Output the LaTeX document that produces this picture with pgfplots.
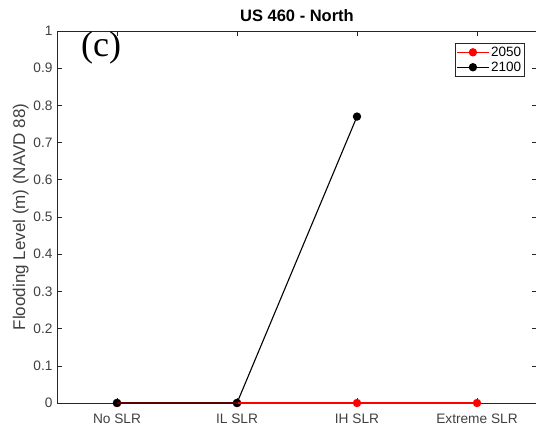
\documentclass[border=0pt]{standalone}
\usepackage{pgfplots}
\pgfplotsset{compat=1.18}
\usepackage{fontspec}
\setmainfont{Liberation Sans}
\newfontfamily\timesfont{Liberation Serif}
\definecolor{axgray}{HTML}{262626}
\definecolor{lblgray}{HTML}{404040}
\begin{document}
\begin{tikzpicture}
\begin{axis}[
  set layers=standard,
  width=480pt, height=372pt, scale only axis,
  xmin=-0.5, xmax=3.5, ymin=0, ymax=1,
  xtick={0,1,2,3},
  xticklabels={No SLR, IL SLR, IH SLR, Extreme SLR},
  ytick={0,0.1,0.2,0.3,0.4,0.5,0.6,0.7,0.8,0.9,1},
  yticklabel style={/pgf/number format/fixed, /pgf/number format/precision=1},
  /pgf/number format/assume math mode=true,
  tick align=inside, tick pos=both,
  major tick length=5pt,
  axis line style={axgray, line width=0.6pt},
  every tick/.style={axgray, line width=0.6pt},
  tick label style={font=\fontsize{13.7}{15}\selectfont, text=lblgray},
  xticklabel style={yshift=-7pt},
  yticklabel style={xshift=-1pt},
  ylabel={Flooding Level (m) (NAVD 88)},
  ylabel style={font=\fontsize{17}{19}\selectfont, text=lblgray, yshift=-2pt},
  title={\textbf{US 460 - North}},
  title style={font=\fontsize{16.5}{18}\selectfont, yshift=0pt},
  legend style={at={([xshift=-12pt,yshift=-12pt]rel axis cs:1,1)}, anchor=north east,
    font=\fontsize{13.5}{15}\selectfont, draw=axgray, line width=0.7pt, inner sep=1.5pt,
    row sep=0pt, cells={anchor=west}},
  legend image code/.code={%
    \draw[#1] (0cm,0cm) -- (1.1cm,0cm);
    \draw[#1, only marks] plot coordinates {(0.55cm,0cm)};},
  clip=false,
]
\addplot[on layer=axis foreground, red, line width=1.1pt, mark=*, mark size=3.6pt, mark options={fill=red}]
  coordinates {(0,0) (1,0) (2,0) (3,0)};
\addlegendentry{2050}
\addplot[on layer=axis foreground, black, line width=1.1pt, mark=*, mark size=3.6pt, mark options={fill=black}]
  coordinates {(0,0) (1,0) (2,0.77)};
\addlegendentry{2100}
\node[anchor=west, font={\timesfont\fontsize{36}{40}\selectfont}] at (rel axis cs:0.043,0.955) {(c)};
\end{axis}
\pgfresetboundingbox
\path (current axis.south west) ++(-57pt,-26pt) rectangle ++(536pt,429pt);
\end{tikzpicture}
\end{document}
